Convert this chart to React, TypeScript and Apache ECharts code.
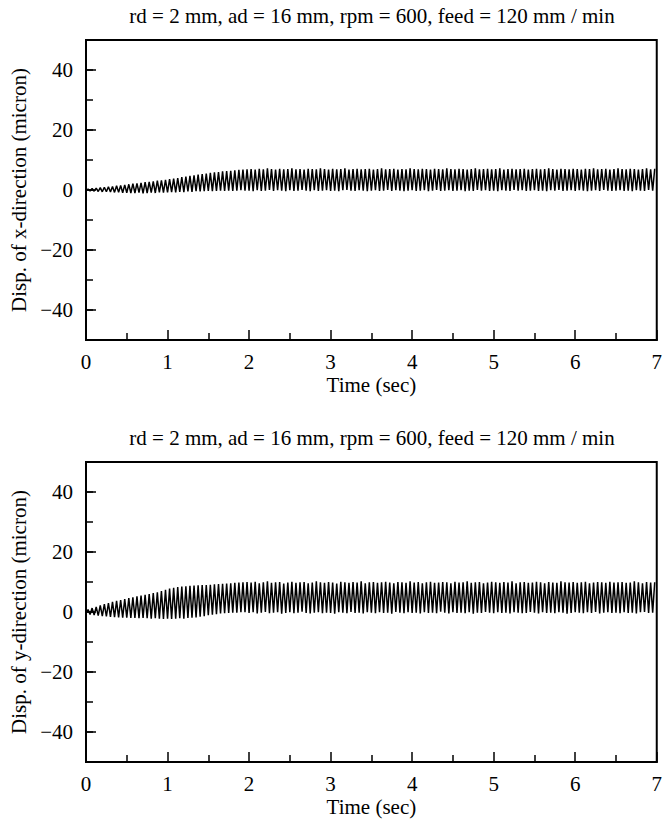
import React, { useEffect, useRef } from "react";
import * as echarts from "echarts";

// Tooth-passing period (sec): 600 rpm, 2 flutes -> 20 Hz
const cyclePeriod = 0.05;

const titleText = "rd = 2 mm, ad = 16 mm, rpm = 600, feed = 120 mm / min";
const xTicks = [0, 1, 2, 3, 4, 5, 6, 7];
const yTickLabels = [-40, -20, 0, 20, 40];

// x-direction: per-cycle peaks and troughs (micron)
const xPeaks = [
  0.3, 0.5, 0.6, 0.8, 0.9, 1.1, 1.2, 1.4, 1.5, 1.7,
  1.9, 2.1, 2.2, 2.4, 2.6, 2.7, 2.9, 3.1, 3.2, 3.4,
  3.6, 3.8, 4.0, 4.3, 4.5, 4.7, 4.9, 5.1, 5.3, 5.5,
  5.7, 5.9, 6.0, 6.2, 6.3, 6.4, 6.6, 6.7, 6.8, 6.9,
  7.0, 6.8, 7.1, 6.9, 7.2, 7.0, 6.8, 7.1, 6.9, 7.0,
  7.2, 6.9, 7.0, 6.8, 7.1, 7.0, 6.9, 7.2, 7.0, 6.8,
  7.1, 6.9, 7.0, 7.2, 6.8, 7.0, 7.1, 6.9, 7.0, 7.1,
  6.8, 7.0, 7.2, 6.9, 7.0, 7.1, 6.8, 7.0, 6.9, 7.2,
  7.0, 6.9, 7.1, 7.0, 6.8, 7.1, 7.0, 6.9, 7.2, 7.0,
  6.9, 7.1, 7.0, 6.8, 7.0, 7.2, 6.9, 7.0, 7.1, 6.9,
  7.0, 7.2, 6.8, 7.0, 7.1, 6.9, 7.0, 7.1, 6.8, 7.0,
  7.1, 6.9, 7.0, 7.2, 7.0, 6.8, 7.1, 7.0, 6.9, 7.1,
  7.0, 6.8, 7.1, 7.0, 7.2, 6.9, 7.0, 7.1, 6.8, 7.0,
  7.2, 7.0, 6.9, 7.1, 7.0, 6.8, 7.0, 7.2, 6.9, 7.1,
];
const xTroughs = [
  -0.2, -0.3, -0.4, -0.5, -0.6, -0.6, -0.7, -0.8, -0.8, -0.9,
  -0.9, -1.0, -1.0, -0.9, -1.1, -1.0, -0.9, -1.0, -0.8, -0.9,
  -0.8, -0.7, -0.8, -0.6, -0.7, -0.5, -0.6, -0.4, -0.5, -0.4,
  -0.3, -0.4, -0.3, -0.2, -0.3, -0.2, -0.3, -0.2, -0.1, -0.2,
  -0.2, -0.4, -0.1, -0.3, -0.2, 0.0, -0.3, -0.1, -0.2, -0.4,
  -0.1, -0.3, -0.2, 0.0, -0.2, -0.4, -0.1, -0.3, -0.2, -0.1,
  -0.3, -0.2, -0.4, -0.1, 0.0, -0.2, -0.3, -0.1, -0.2, -0.4,
  -0.2, -0.1, -0.3, -0.2, 0.0, -0.3, -0.1, -0.2, -0.4, -0.2,
  -0.1, -0.3, -0.2, -0.1, -0.4, -0.2, 0.0, -0.3, -0.2, -0.1,
  -0.3, -0.2, -0.1, -0.4, -0.2, -0.3, 0.0, -0.2, -0.1, -0.3,
  -0.2, -0.4, -0.1, -0.2, -0.3, 0.0, -0.2, -0.1, -0.3, -0.2,
  -0.1, -0.3, -0.2, -0.4, -0.1, -0.2, 0.0, -0.3, -0.2, -0.1,
  -0.3, -0.1, -0.2, -0.4, -0.2, -0.1, -0.3, 0.0, -0.2, -0.3,
  -0.2, -0.1, -0.3, -0.2, -0.4, -0.1, -0.2, -0.3, 0.0, -0.2,
];

// y-direction: per-cycle peaks and troughs (micron)
const yPeaks = [
  0.8, 1.3, 1.7, 2.2, 2.6, 3.0, 3.4, 3.7, 4.0, 4.3,
  4.6, 4.9, 5.2, 5.5, 5.7, 6.0, 6.3, 6.6, 7.0, 7.4,
  7.8, 8.1, 8.3, 8.5, 8.6, 8.7, 8.8, 8.9, 9.0, 9.0,
  9.1, 9.2, 9.3, 9.4, 9.5, 9.6, 9.7, 9.8, 9.9, 10.0,
  9.8, 10.1, 9.6, 9.9, 10.2, 9.7, 9.9, 10.0, 9.5, 9.8,
  10.1, 9.7, 9.9, 10.0, 9.6, 9.8, 10.2, 9.9, 9.7, 10.0,
  9.8, 9.5, 10.1, 9.9, 9.7, 10.0, 9.8, 10.2, 9.6, 9.9,
  10.0, 9.7, 9.9, 10.1, 9.8, 9.6, 10.0, 9.9, 9.7, 10.2,
  9.8, 10.0, 9.6, 9.9, 10.1, 9.7, 9.8, 10.0, 9.9, 9.6,
  10.1, 9.8, 9.9, 10.2, 9.7, 9.9, 10.0, 9.6, 9.8, 10.1,
  9.9, 9.7, 10.0, 9.8, 10.2, 9.6, 9.9, 10.0, 9.7, 9.8,
  10.1, 9.9, 9.6, 10.0, 9.8, 9.7, 10.2, 9.9, 9.8, 10.0,
  9.7, 9.9, 10.1, 9.6, 9.8, 10.0, 9.9, 9.7, 10.1, 9.8,
  9.9, 10.0, 9.7, 9.8, 10.2, 9.9, 9.6, 10.0, 9.8, 9.9,
];
const yTroughs = [
  -0.5, -0.8, -1.0, -1.2, -1.4, -1.5, -1.6, -1.7, -1.8, -1.9,
  -1.9, -2.0, -2.0, -2.1, -2.0, -2.1, -2.2, -2.1, -2.2, -2.3,
  -2.2, -2.3, -2.2, -2.1, -2.2, -2.0, -1.9, -1.8, -1.6, -1.4,
  -1.1, -0.9, -0.7, -0.5, -0.4, -0.3, -0.2, -0.2, -0.1, -0.1,
  -0.3, -0.1, -0.5, -0.2, 0.0, -0.4, -0.2, -0.1, -0.6, -0.3,
  -0.1, -0.4, -0.2, 0.1, -0.3, -0.5, -0.2, -0.1, -0.4, -0.2,
  -0.3, -0.6, -0.1, -0.2, -0.4, 0.0, -0.3, -0.2, -0.5, -0.1,
  -0.2, -0.4, -0.1, -0.3, -0.2, -0.6, 0.0, -0.2, -0.4, -0.1,
  -0.3, -0.2, -0.5, -0.1, -0.3, -0.2, -0.4, 0.1, -0.2, -0.5,
  -0.1, -0.3, -0.2, -0.4, -0.1, -0.6, -0.2, -0.3, 0.0, -0.2,
  -0.4, -0.1, -0.3, -0.2, -0.5, -0.1, -0.2, -0.4, -0.3, 0.0,
  -0.2, -0.5, -0.1, -0.3, -0.2, -0.4, -0.1, -0.2, -0.6, -0.3,
  -0.1, -0.2, -0.4, -0.1, -0.3, 0.0, -0.5, -0.2, -0.1, -0.3,
  -0.2, -0.4, -0.1, -0.3, -0.2, -0.5, -0.1, 0.0, -0.3, -0.2,
];

function buildSignal(troughs: number[], peaks: number[]) {
  const pts: number[][] = [];
  for (let i = 0; i < peaks.length; i++) {
    pts.push([i * cyclePeriod, troughs[i]]);
    pts.push([i * cyclePeriod + cyclePeriod / 2, peaks[i]]);
  }
  return pts;
}

const FONT = "'Liberation Serif', 'DejaVu Serif', serif";
const FS = 21;
const fmtY = (v: number) => (v < 0 ? "\u2212" + Math.abs(v) : String(v));

export default function App() {
  const ref = useRef<HTMLDivElement>(null);
  useEffect(() => {
    if (!ref.current) return;
    const chart = echarts.init(ref.current, undefined, { renderer: "svg" });
    const L = 86;
    const R = 7;
    const tops = [40, 462];
    const H = 300;
    const names = ["Disp. of x-direction (micron)", "Disp. of y-direction (micron)"];
    const grids = tops.map((t) => ({
      left: L,
      right: R,
      top: t,
      height: H,
      show: true,
      borderColor: "#000",
      borderWidth: 2,
      backgroundColor: "transparent",
    }));
    const xAxes = tops.map((_, i) => ({
      type: "value",
      gridIndex: i,
      min: 0,
      max: 7,
      interval: 1,
      name: "Time (sec)",
      nameLocation: "middle",
      nameGap: 34,
      nameTextStyle: { fontFamily: FONT, fontSize: FS, color: "#000" },
      axisLine: { show: true, onZero: false, lineStyle: { color: "#000", width: 2 } },
      axisTick: { show: true, inside: true, length: 10, lineStyle: { color: "#000", width: 1.5 } },
      minorTick: { show: true, splitNumber: 2, length: 7, lineStyle: { color: "#000", width: 1.5 } },
      axisLabel: {
        fontFamily: FONT,
        fontSize: FS,
        color: "#000",
        margin: 11,
        customValues: xTicks,
      },
      splitLine: { show: false },
    }));
    const yAxes: any[] = [];
    tops.forEach((_, i) => {
      yAxes.push({
        type: "value",
        gridIndex: i,
        min: -50,
        max: 50,
        position: "left",
        name: names[i],
        nameLocation: "middle",
        nameGap: 56,
        nameTextStyle: { fontFamily: FONT, fontSize: FS, color: "#000" },
        axisLine: { show: true, onZero: false, lineStyle: { color: "#000", width: 2 } },
        axisTick: {
          show: true,
          inside: true,
          length: 10,
          customValues: yTickLabels,
          lineStyle: { color: "#000", width: 1.5 },
        },
        axisLabel: {
          fontFamily: FONT,
          fontSize: FS,
          color: "#000",
          margin: 13,
          customValues: yTickLabels,
          formatter: fmtY,
        },
        splitLine: { show: false },
      });
      yAxes.push({
        type: "value",
        gridIndex: i,
        min: -50,
        max: 50,
        interval: 10,
        position: "left",
        axisLine: { show: false, onZero: false },
        axisTick: { show: true, inside: true, length: 7, lineStyle: { color: "#000", width: 1.5 } },
        axisLabel: { show: false },
        splitLine: { show: false },
      });
    });
    const series = [
      {
        type: "line",
        xAxisIndex: 0,
        yAxisIndex: 0,
        data: buildSignal(xTroughs, xPeaks),
        symbol: "none",
        lineStyle: { color: "#000", width: 1.5 },
      },
      {
        type: "line",
        xAxisIndex: 1,
        yAxisIndex: 2,
        data: buildSignal(yTroughs, yPeaks),
        symbol: "none",
        lineStyle: { color: "#000", width: 1.5 },
      },
    ];
    const centerX = L + (665 - L - R) / 2;
    chart.setOption({
      animation: false,
      backgroundColor: "#fff",
      grid: grids,
      xAxis: xAxes,
      yAxis: yAxes,
      series,
      graphic: tops.map((t) => ({
        type: "text",
        x: centerX,
        y: t - 24,
        style: {
          text: titleText,
          align: "center",
          verticalAlign: "middle",
          font: `${FS}px ${FONT}`,
          fill: "#000",
        },
      })),
    });
    return () => chart.dispose();
  }, []);
  return (
    <div
      ref={ref}
      style={{ position: "fixed", left: 0, top: 0, width: 665, height: 823, background: "#fff" }}
    />
  );
}
